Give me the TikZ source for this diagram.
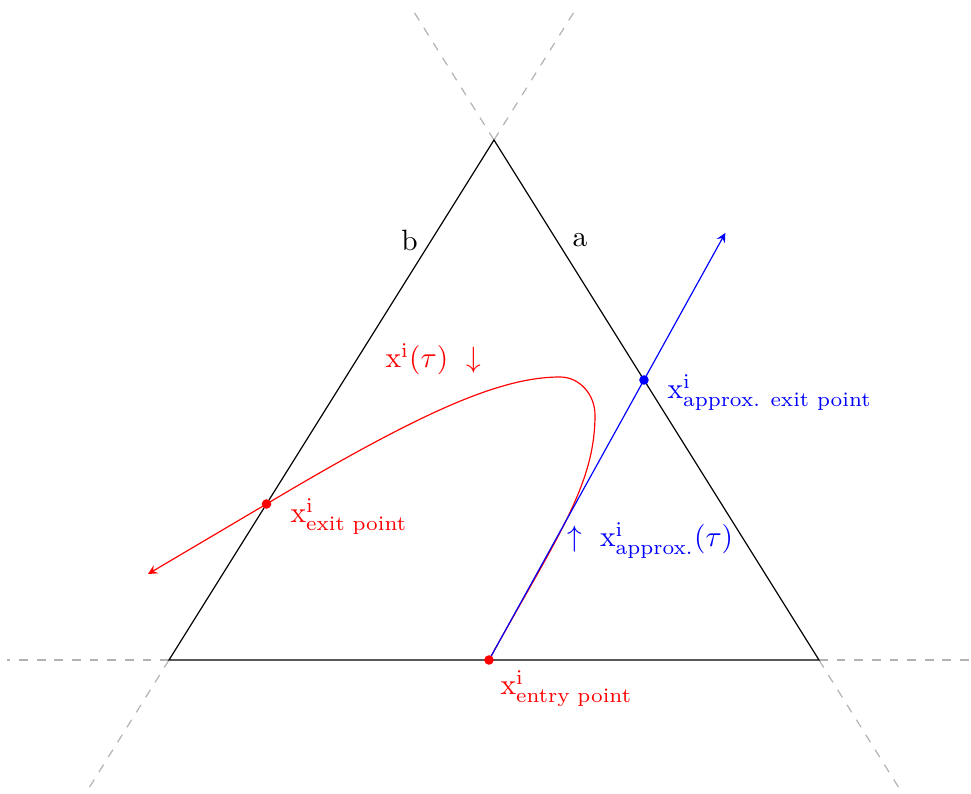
\documentclass[tikz,border=0pt]{standalone}
\usepackage{amsmath}
\usepackage{amssymb}
\usepackage{tikz}
\usetikzlibrary{calc}

\begin{document}
\begin{tikzpicture}[scale=0.957,
    ext/.style={dashed, gray!60},
    lbl/.style={anchor=base west, inner sep=0pt},
    ]
    \useasboundingbox (-2.1125,-1.675) rectangle (10.025,8.25);

    \coordinate (A) at (0,0);
    \coordinate (B) at (8.125,0);
    \coordinate (C) at (4.0625,6.5);

    \foreach \p/\q in {A/B, B/A, A/C, C/A, B/C, C/B}
        \draw[ext] (\p) -- ($(\p)!-0.25!(\q)$);

    \draw (A) -- (B) -- (C) -- cycle;

    \path (A) -- (C) node[pos=0.806, left=1pt] (lb) {b};
    \path (C) -- (B) node[pos=0.192, right=2pt] (la) {a};

    \coordinate (entry) at (4,0);
    \path (A) -- (C) coordinate[pos=0.3] (exit);
    \path (B) -- (C) coordinate[pos=0.5385] (approx);
    \coordinate (redend) at (-0.2625,1.075);
    \coordinate (blueend) at ($(entry)!1.525!(approx)$);

    \draw[red, -stealth] (entry)
        .. controls (4.85,1.5375) and (5.325,2.1875) .. (5.325,3.0625)
        .. controls (5.325,3.3125) and (5.1375,3.5375) .. (4.8875,3.5375)
        .. controls (4.1375,3.5375) and (3.15,3.1) .. (exit) -- (redend);
    \draw[blue, -stealth] (entry) -- (blueend);

    \fill[red] (entry) circle (1.7pt);
    \fill[red] (exit) circle (1.7pt);
    \fill[blue] (approx) circle (1.7pt);

    \node[lbl, red] (lentry) at (4.1375,-0.4375) {$\mathrm{x}^{\mathrm{i}}_{\text{entry point}}$};
    \node[lbl, red] (lexit) at (1.5125,1.7125) {$\mathrm{x}^{\mathrm{i}}_{\text{exit point}}$};
    \node[lbl, blue] (lapprox) at (6.225,3.2625) {$\mathrm{x}^{\mathrm{i}}_{\text{approx. exit point}}$};
    \node[lbl, red] (ltau) at (2.7,3.65) {$\mathrm{x}^{\mathrm{i}}(\tau)\ \downarrow$};
    \node[lbl, blue] (ltauapprox) at (4.975,1.4125) {$\uparrow\ \mathrm{x}^{\mathrm{i}}_{\text{approx.}}(\tau)$};
\end{tikzpicture}
\end{document}
